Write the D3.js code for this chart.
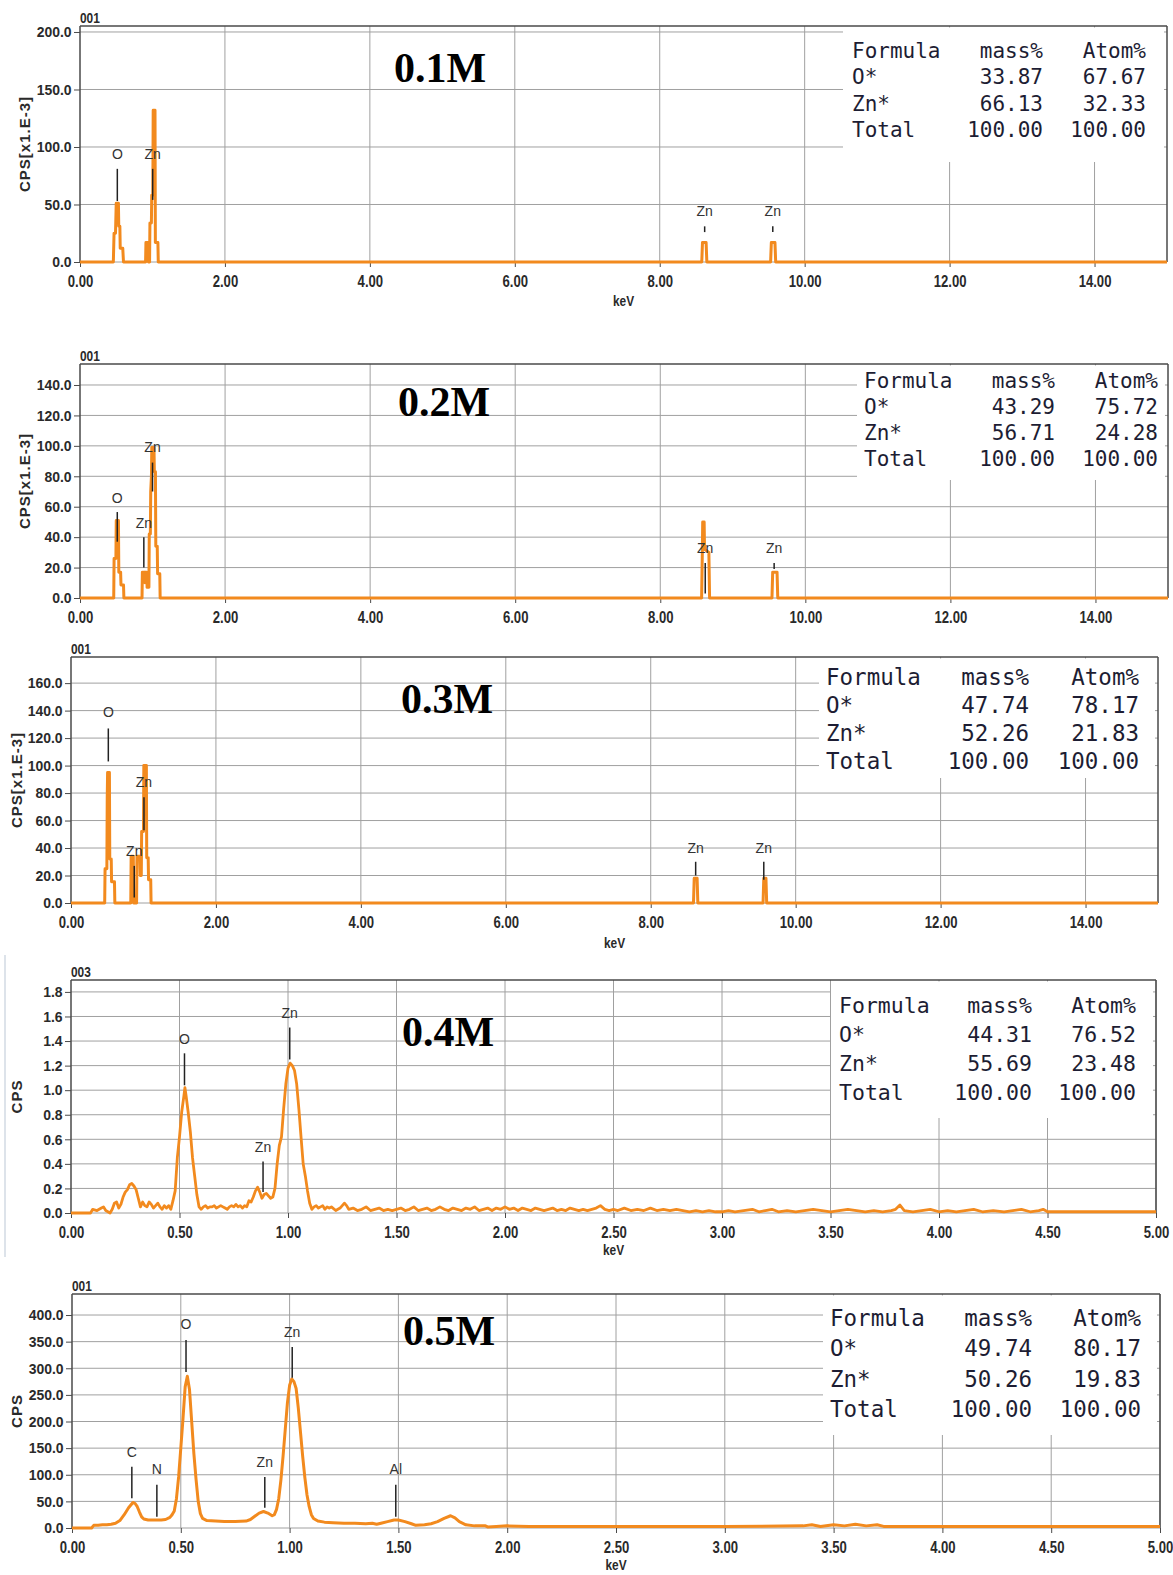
<!DOCTYPE html>
<html><head><meta charset="utf-8">
<script src="https://cdn.jsdelivr.net/npm/d3@7"></script>
<style>
body{margin:0;background:#fff;}
svg{display:block;}
</style></head><body>
<svg id="fig" width="1173" height="1575"></svg>
<script>
// ---------- EDS spectra: energy (keV) vs counts ----------
const spectrum01 = [[0,0],[0.46,0],[0.47,25],[0.49,25],[0.50,51],[0.53,51],[0.535,31],[0.55,31],[0.555,12],[0.59,12],[0.60,0],
  [0.905,0],[0.91,17],[0.94,17],[0.945,0],[0.96,0],[0.965,34],[0.985,34],[0.99,58],[1.005,58],[1.01,132],[1.035,132],[1.04,17],[1.075,17],[1.08,0],
  [8.58,0],[8.59,17],[8.64,17],[8.65,0],[9.53,0],[9.54,17],[9.59,17],[9.60,0],[15,0]];
const spectrum02 = [[0,0],[0.465,0],[0.47,26],[0.495,26],[0.50,51],[0.53,51],[0.535,17],[0.56,17],[0.565,8.5],[0.60,8.5],[0.605,0],
  [0.855,0],[0.86,17],[0.89,17],[0.895,10],[0.90,17],[0.92,17],[0.925,7],[0.95,7],[0.955,42],[0.97,42],[0.975,70],[0.985,80],[0.99,99],[1.02,99],[1.025,83],[1.04,83],[1.045,34],[1.065,34],[1.07,16],[1.10,16],[1.105,0],
  [8.57,0],[8.58,30],[8.585,50],[8.605,50],[8.61,32],[8.67,30],[8.68,0],[9.54,0],[9.55,17],[9.61,17],[9.62,0],[15,0]];
const spectrum03 = [[0,0],[0.465,0],[0.47,25],[0.495,25],[0.50,76],[0.505,95],[0.53,95],[0.535,32],[0.555,32],[0.56,15.5],[0.60,15.5],[0.605,0],
  [0.825,0],[0.83,34],[0.86,34],[0.865,0],[0.905,0],[0.91,34],[0.95,34],[0.955,20],[0.97,20],[0.975,52],[1.0,52],[1.005,100],[1.04,100],[1.045,33],[1.065,33],[1.07,17],[1.10,17],[1.105,0],
  [8.59,0],[8.60,18],[8.64,18],[8.65,0],[9.55,0],[9.56,18],[9.59,18],[9.60,0],[15,0]];
const spectrum04 = [[0,0],[0.09,0],[0.10,0.03],[0.12,0.02],[0.14,0.04],[0.15,0.05],[0.16,0.02],[0.18,0.00],[0.19,0.03],[0.20,0.08],[0.21,0.09],[0.22,0.04],[0.23,0.07],[0.24,0.13],[0.25,0.17],[0.26,0.19],[0.27,0.23],[0.28,0.24],[0.29,0.22],[0.30,0.19],[0.31,0.12],[0.32,0.05],[0.33,0.09],[0.34,0.06],[0.35,0.05],[0.36,0.09],[0.37,0.07],[0.38,0.04],[0.39,0.06],[0.40,0.08],[0.41,0.05],[0.42,0.03],[0.43,0.06],[0.44,0.04],[0.45,0.06],[0.46,0.03],[0.47,0.10],[0.48,0.18],[0.49,0.45],[0.50,0.62],[0.51,0.82],[0.52,0.95],[0.525,1.02],[0.53,0.96],[0.54,0.82],[0.55,0.66],[0.56,0.45],[0.57,0.30],[0.58,0.15],[0.59,0.05],[0.60,0.03],[0.61,0.05],[0.62,0.06],[0.63,0.04],[0.64,0.05],[0.65,0.05],[0.66,0.06],[0.67,0.04],[0.68,0.05],[0.69,0.06],[0.70,0.05],[0.71,0.04],[0.72,0.03],[0.73,0.05],[0.74,0.06],[0.75,0.05],[0.76,0.07],[0.77,0.05],[0.78,0.06],[0.79,0.04],[0.80,0.06],[0.81,0.05],[0.82,0.10],[0.83,0.09],[0.84,0.13],[0.85,0.18],[0.86,0.21],[0.87,0.17],[0.88,0.12],[0.89,0.15],[0.90,0.16],[0.91,0.14],[0.92,0.12],[0.93,0.13],[0.94,0.20],[0.95,0.40],[0.96,0.55],[0.97,0.62],[0.98,0.85],[0.99,1.05],[1.00,1.18],[1.01,1.22],[1.02,1.20],[1.03,1.16],[1.04,1.05],[1.05,0.85],[1.06,0.62],[1.07,0.40],[1.08,0.30],[1.09,0.18],[1.10,0.08],[1.11,0.03],[1.12,0.05],[1.13,0.06],[1.14,0.04],[1.15,0.05],[1.16,0.06],[1.17,0.03],[1.18,0.05],[1.19,0.04],[1.20,0.05],[1.22,0.02],[1.24,0.04],[1.26,0.08],[1.27,0.06],[1.28,0.03],[1.30,0.04],[1.32,0.02],[1.34,0.03],[1.36,0.05],[1.38,0.02],[1.40,0.03],[1.42,0.04],[1.44,0.02],[1.46,0.03],[1.48,0.02],[1.50,0.03],
  [1.52,0.04],[1.54,0.02],[1.56,0.03],[1.58,0.05],[1.60,0.02],[1.62,0.03],[1.64,0.04],[1.66,0.02],[1.68,0.03],[1.70,0.05],[1.72,0.03],[1.74,0.02],[1.76,0.04],[1.78,0.03],[1.80,0.02],[1.82,0.04],[1.84,0.03],[1.86,0.05],[1.88,0.02],[1.90,0.03],[1.92,0.04],[1.94,0.02],[1.96,0.04],[1.98,0.03],[2.00,0.05],[2.02,0.03],[2.04,0.04],[2.06,0.02],[2.08,0.04],[2.10,0.03],[2.12,0.02],[2.14,0.04],[2.16,0.03],[2.18,0.02],[2.20,0.03],[2.22,0.04],[2.24,0.02],[2.26,0.03],[2.28,0.02],[2.30,0.04],[2.32,0.03],[2.34,0.02],[2.36,0.03],[2.38,0.02],[2.40,0.03],[2.42,0.04],[2.44,0.06],[2.46,0.03],[2.48,0.02],[2.50,0.03],[2.52,0.02],[2.55,0.04],[2.58,0.02],[2.61,0.03],[2.64,0.02],[2.67,0.04],[2.70,0.02],[2.73,0.03],[2.76,0.02],[2.79,0.03],[2.82,0.02],[2.85,0.01],[2.88,0.02],[2.91,0.01],[2.94,0.02],[2.97,0.01],[3.00,0.01],[3.03,0.02],[3.06,0.01],[3.10,0.02],[3.14,0.03],[3.17,0.01],[3.20,0.02],[3.23,0.03],[3.26,0.01],[3.30,0.02],[3.34,0.01],[3.38,0.02],[3.42,0.03],[3.46,0.02],[3.50,0.01],[3.54,0.02],[3.58,0.03],[3.62,0.02],[3.66,0.01],[3.70,0.02],[3.74,0.01],[3.78,0.02],[3.80,0.03],[3.82,0.065],[3.84,0.02],[3.88,0.01],[3.92,0.02],[3.96,0.03],[4.00,0.01],[4.04,0.02],[4.08,0.01],[4.12,0.02],[4.16,0.03],[4.20,0.01],[4.25,0.02],[4.30,0.01],[4.34,0.02],[4.38,0.03],[4.42,0.01],[4.46,0.02],[4.48,0.03],[4.50,0.01],[4.60,0.01],[4.80,0.01],[5.00,0.01]];
const spectrum05 = [[0,0],[0.09,0],[0.10,5],[0.12,5],[0.14,6],[0.16,6],[0.18,7],[0.20,9],[0.22,14],[0.24,25],[0.26,38],[0.28,48],[0.29,46],[0.30,40],[0.31,30],[0.32,21],[0.33,17],[0.35,15],[0.38,15],[0.41,15],[0.43,16],[0.45,20],[0.46,25],[0.47,32],[0.48,55],[0.49,96],[0.50,150],[0.51,205],[0.52,265],[0.53,285],[0.54,260],[0.55,200],[0.56,140],[0.57,92],[0.58,50],[0.59,27],[0.60,18],[0.62,14],[0.66,13],[0.70,12],[0.75,12],[0.80,13],[0.82,16],[0.84,22],[0.86,28],[0.88,31],[0.90,28],[0.92,23],[0.93,25],[0.94,35],[0.95,55],[0.96,90],[0.97,135],[0.98,185],[0.99,235],[1.00,268],[1.01,280],[1.02,275],[1.03,262],[1.04,225],[1.05,180],[1.06,135],[1.07,95],[1.08,62],[1.09,40],[1.10,25],[1.11,18],[1.13,13],[1.16,11],[1.20,10],[1.25,9],[1.30,9],[1.35,8],[1.38,9],[1.40,7],[1.42,9],[1.45,12],[1.48,15],[1.50,15],[1.53,12],[1.56,8],[1.58,5],[1.62,6],[1.65,8],[1.68,12],[1.71,18],[1.74,23],[1.76,19],[1.78,12],[1.81,6],[1.85,4],[1.90,4],[1.91,2],[1.95,3],[2.00,4],[2.10,3],[2.50,3],[3.00,3],[3.36,4],[3.40,6],[3.44,3],[3.50,6],[3.55,4],[3.60,7],[3.65,4],[3.70,6],[3.73,3],[4.00,3],[5.00,3]];

// ---------- peak identification markers: [element, keV, label level, line top, line bottom] ----------
const peaks01 = [["O",0.515,94,81,53],["Zn",1.003,94,81,54],["Zn",8.62,44,31,26],["Zn",9.56,44,31,26]];
const peaks02 = [["O",0.514,66,56.5,37],["Zn",0.88,49,40,20],["Zn",1.0,99,89,70],["Zn",8.62,33,23,3],["Zn",9.57,33,23,19]];
const peaks03 = [["O",0.515,139,127,103],["Zn",0.873,38,27,4],["Zn",1.007,88,77,53],["Zn",8.62,40,30,20],["Zn",9.56,40,30,17]];
const peaks04 = [["O",0.523,1.42,1.30,1.04],["Zn",0.885,0.54,0.42,0.17],["Zn",1.008,1.63,1.51,1.25]];
const peaks05 = [["C",0.275,143,115,56],["N",0.39,111,81,21],["O",0.524,383,353,293],["Zn",0.886,124,96,38],["Zn",1.012,368,340,282],["Al",1.488,111,81,21]];

// ---------- quantification tables ----------
const tableHeader = ["Formula","mass%","Atom%"];
const comp01 = [["O*","33.87","67.67"],["Zn*","66.13","32.33"],["Total","100.00","100.00"]];
const comp02 = [["O*","43.29","75.72"],["Zn*","56.71","24.28"],["Total","100.00","100.00"]];
const comp03 = [["O*","47.74","78.17"],["Zn*","52.26","21.83"],["Total","100.00","100.00"]];
const comp04 = [["O*","44.31","76.52"],["Zn*","55.69","23.48"],["Total","100.00","100.00"]];
const comp05 = [["O*","49.74","80.17"],["Zn*","50.26","19.83"],["Total","100.00","100.00"]];

// ---------- tick values ----------
const xTicksWide = [0,2,4,6,8,10,12,14];
const xTicksNarrow = [0,0.5,1,1.5,2,2.5,3,3.5,4,4.5,5];
const yTicks01 = [0,50,100,150,200];
const yTicks02 = [0,20,40,60,80,100,120,140];
const yTicks03 = [0,20,40,60,80,100,120,140,160];
const yTicks04 = [0,0.2,0.4,0.6,0.8,1.0,1.2,1.4,1.6,1.8];
const yTicks05 = [0,50,100,150,200,250,300,350,400];

const concLabels = ["0.1M","0.2M","0.3M","0.4M","0.5M"];
const runIds = ["001","001","001","003","001"];

// ---------- panel layout ----------
const panels = [
  {spec:spectrum01, peaks:peaks01, comp:comp01, yTicks:yTicks01, xTicks:xTicksWide, xMax:15, yTop:205.2, yTitle:"CPS[x1.E-3]", keV:true,
   L:80, R:1167, T:26, B:262, boxX:843, boxB:162, tx:852, c2:1043, c3:1146, row0:58, rowH:26.3, fs:21, cx:394, cy:82, titleX:25, keVdy:44, lw:3},
  {spec:spectrum02, peaks:peaks02, comp:comp02, yTicks:yTicks02, xTicks:xTicksWide, xMax:15, yTop:153.8, yTitle:"CPS[x1.E-3]", keV:false,
   L:80, R:1168, T:364, B:598, boxX:857, boxB:480, tx:864, c2:1055, c3:1158, row0:388, rowH:26, fs:21, cx:398, cy:416, titleX:25, keVdy:44, lw:3},
  {spec:spectrum03, peaks:peaks03, comp:comp03, yTicks:yTicks03, xTicks:xTicksWide, xMax:15, yTop:179, yTitle:"CPS[x1.E-3]", keV:true,
   L:71, R:1158, T:657, B:903, boxX:819, boxB:778, tx:826, c2:1029, c3:1139, row0:685, rowH:28, fs:22.5, cx:401, cy:713, titleX:17, keVdy:45, lw:3},
  {spec:spectrum04, peaks:peaks04, comp:comp04, yTicks:yTicks04, xTicks:xTicksNarrow, xMax:5, yTop:1.897, yTitle:"CPS", keV:true,
   L:71, R:1156, T:980, B:1213, boxX:831, boxB:1118, tx:839, c2:1032, c3:1136, row0:1013, rowH:29, fs:21.5, cx:402, cy:1046, titleX:17, keVdy:42, lw:2.8},
  {spec:spectrum05, peaks:peaks05, comp:comp05, yTicks:yTicks05, xTicks:xTicksNarrow, xMax:5, yTop:439.5, yTitle:"CPS", keV:true,
   L:72, R:1160, T:1294, B:1528, boxX:823, boxB:1435, tx:830, c2:1032, c3:1141, row0:1326, rowH:30.3, fs:22.5, cx:403, cy:1345, titleX:17, keVdy:42, lw:3}
];

const svg = d3.select("#fig");
svg.append("rect").attr("width",1173).attr("height",1575).attr("fill","#fff");

const SANS = "'Liberation Sans', Arial, sans-serif";
const MONO = "'DejaVu Sans Mono', 'Liberation Mono', monospace";
const ORANGE = "#f28a1e";
const GRID = "#a0a0a0";
const FRAME = "#4a4a4a";

// faint frame edge to the left of the fourth spectrum
svg.append("line").attr("x1",5).attr("x2",5).attr("y1",955).attr("y2",1257)
  .attr("stroke","#dde3ea").attr("stroke-width",2);

panels.forEach((p, i) => {
  const g = svg.append("g");
  const x = d3.scaleLinear().domain([0, p.xMax]).range([p.L, p.R]);
  const y = d3.scaleLinear().domain([0, p.yTop]).range([p.B, p.T]);

  // grid
  g.append("g").selectAll("line").data(p.xTicks.filter(d => d > 0)).join("line")
    .attr("x1", d => x(d)).attr("x2", d => x(d)).attr("y1", p.T).attr("y2", p.B)
    .attr("stroke", GRID).attr("stroke-width", 1);
  g.append("g").selectAll("line").data(p.yTicks.filter(d => d > 0)).join("line")
    .attr("x1", p.L).attr("x2", p.R).attr("y1", d => y(d)).attr("y2", d => y(d))
    .attr("stroke", GRID).attr("stroke-width", 1);

  // white panel holding the quantification table
  g.append("rect").attr("x", p.boxX).attr("y", p.T + 1.5)
    .attr("width", p.R - 3 - p.boxX).attr("height", p.boxB - p.T - 1.5).attr("fill", "#fff");

  // frame
  g.append("line").attr("x1", p.L).attr("x2", p.R).attr("y1", p.T).attr("y2", p.T).attr("stroke", FRAME).attr("stroke-width", 1.5);
  g.append("line").attr("x1", p.R).attr("x2", p.R).attr("y1", p.T).attr("y2", p.B).attr("stroke", FRAME).attr("stroke-width", 1.5);
  g.append("line").attr("x1", p.L).attr("x2", p.L).attr("y1", p.T).attr("y2", p.B).attr("stroke", FRAME).attr("stroke-width", 1.5);
  g.append("line").attr("x1", p.L).attr("x2", p.R).attr("y1", p.B).attr("y2", p.B).attr("stroke", GRID).attr("stroke-width", 1);

  // axes
  const ya = g.append("g").attr("transform", `translate(${p.L},0)`)
    .call(d3.axisLeft(y).tickValues(p.yTicks).tickFormat(d3.format(".1f")).tickSize(6).tickPadding(3));
  ya.select(".domain").remove();
  ya.selectAll("line").attr("stroke", FRAME);
  ya.selectAll("text").attr("fill", "#2a2a2a").style("font-family", SANS).style("font-weight", "bold")
    .style("font-size", "15px").attr("transform", "scale(0.93,1)");

  const xa = g.append("g").attr("transform", `translate(0,${p.B})`)
    .call(d3.axisBottom(x).tickValues(p.xTicks).tickFormat(d3.format(".2f")).tickSize(5));
  xa.select(".domain").remove();
  xa.selectAll("line").attr("stroke", FRAME);
  xa.selectAll("text").attr("y", 25).attr("dy", null).attr("fill", "#2a2a2a")
    .style("font-family", SANS).style("font-weight", "bold").style("font-size", "16px")
    .attr("transform", "scale(0.82,1)");

  // spectrum
  g.append("path").datum(p.spec)
    .attr("d", d3.line().x(d => x(d[0])).y(d => y(d[1])))
    .attr("fill", "none").attr("stroke", ORANGE).attr("stroke-width", p.lw)
    .attr("stroke-linejoin", "round");

  // peak markers
  const pk = g.append("g").selectAll("g").data(p.peaks).join("g");
  pk.append("line").attr("x1", d => x(d[1])).attr("x2", d => x(d[1]))
    .attr("y1", d => y(d[3])).attr("y2", d => y(d[4])).attr("stroke", "#222").attr("stroke-width", 1.5);
  pk.append("text").attr("x", d => x(d[1])).attr("y", d => y(d[2])).attr("dy", "0.36em")
    .attr("text-anchor", "middle").attr("fill", "#333")
    .style("font-family", SANS).style("font-size", "14px").text(d => d[0]);

  // run id above the frame
  g.append("text").attr("transform", `translate(${p.L},${p.T - 3}) scale(0.85,1)`)
    .attr("fill", "#2a2a2a").style("font-family", SANS).style("font-weight", "bold").style("font-size", "14px")
    .text(runIds[i]);

  // axis titles
  g.append("text").attr("transform", `translate(${p.titleX},${(p.T + p.B) / 2}) rotate(-90)`)
    .attr("text-anchor", "middle").attr("dy", "0.35em").attr("fill", "#2a2a2a")
    .style("font-family", SANS).style("font-weight", "bold").style("font-size", "15px").style("letter-spacing", "1px")
    .text(p.yTitle);
  if (p.keV) {
    g.append("text").attr("transform", `translate(${(p.L + p.R) / 2},${p.B + p.keVdy}) scale(0.85,1)`)
      .attr("text-anchor", "middle").attr("fill", "#2a2a2a")
      .style("font-family", SANS).style("font-weight", "bold").style("font-size", "14px").text("keV");
  }

  // quantification table
  const rows = [tableHeader].concat(p.comp);
  const tb = g.append("g").style("font-family", MONO).style("font-size", p.fs + "px").attr("fill", "#1d1d33");
  rows.forEach((r, k) => {
    const yy = p.row0 + k * p.rowH;
    tb.append("text").attr("x", p.tx).attr("y", yy).text(r[0]);
    tb.append("text").attr("x", p.c2).attr("y", yy).attr("text-anchor", "end").text(r[1]);
    tb.append("text").attr("x", p.c3).attr("y", yy).attr("text-anchor", "end").text(r[2]);
  });

  // concentration label
  g.append("text").attr("x", p.cx).attr("y", p.cy).attr("fill", "#000")
    .style("font-family", "'Liberation Serif', 'Times New Roman', serif").style("font-weight", "bold")
    .style("font-size", "42px").text(concLabels[i]);
});
</script></body></html>
